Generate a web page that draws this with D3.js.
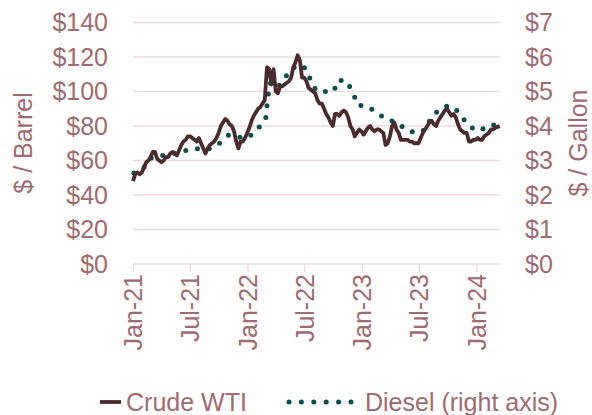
<!DOCTYPE html>
<html>
<head>
<meta charset="utf-8">
<script src="https://cdn.jsdelivr.net/npm/d3@7"></script>
<style>
  body { margin: 0; background: #fff; }
  text { font-family: "Liberation Sans", Arial, sans-serif; }
</style>
</head>
<body>
<div id="chart"></div>
<script>
// weekly crude WTI ($/barrel), one value per Friday starting 2021-01-01
var wtiStart = "2021-01-01";
var wti = [
  // 2021
  48, 52, 53, 52, 53,   56, 59, 60, 62,   65, 65, 61, 60,   59, 60, 62, 62, 64,
  65, 64, 63, 66,   69, 71, 72, 74,   74, 73, 72, 71, 73,   70, 67, 64, 67,
  69, 70, 71, 73,   76, 80, 82, 84, 83,   81, 80, 77, 71,   67, 71, 71, 73, 76,
  // 2022
  79, 83, 86, 88,   90, 91, 93, 95,   114, 113, 104, 113,   100, 99, 103, 103, 104,
  105, 106, 108, 114,   117, 121, 118, 108,   108, 106, 102, 101, 100,   99, 95, 93, 93,
  90, 87, 85, 82, 80,   87, 87, 86, 88,   89, 88, 85, 80,   78, 74, 76, 78, 77,
  // 2023
  75, 77, 79, 80,   78, 77, 78, 78,   77, 76, 69, 70, 74,   80, 82, 78, 76,
  72, 72, 72, 72,   71, 71, 70, 70, 70,   73, 76, 78, 80,   82, 83, 81, 80,
  83, 85, 87, 89, 90,   88, 86, 87, 85,   81, 78, 77, 76,   76, 71, 71, 72, 72,
  // 2024
  73, 72, 72, 74,   75, 76, 78, 78,   79, 79.5, 80
];

// diesel ($/gallon), right axis
var dieselDates = [
  "2021-01-04", "2021-02-01", "2021-03-01", "2021-04-01", "2021-05-03", "2021-06-01",
  "2021-07-01", "2021-08-02", "2021-09-01", "2021-10-01", "2021-11-01", "2021-12-01",
  "2022-01-03", "2022-02-01", "2022-02-28", "2022-03-07", "2022-03-14", "2022-04-04",
  "2022-04-25", "2022-05-16", "2022-06-13", "2022-07-04", "2022-07-18", "2022-08-08",
  "2022-09-05", "2022-09-26", "2022-10-05", "2022-10-17", "2022-11-14", "2022-12-05",
  "2022-12-19", "2023-01-16", "2023-02-13", "2023-03-20", "2023-04-24", "2023-05-22",
  "2023-06-26", "2023-07-24", "2023-08-09", "2023-09-05", "2023-10-02", "2023-10-25",
  "2023-11-17", "2023-12-14", "2024-01-12", "2024-02-10", "2024-03-11"
];
var diesel = [
  2.64, 2.75, 3.08, 3.14, 3.19, 3.26,
  3.31, 3.35, 3.34, 3.48, 3.73, 3.68,
  3.66, 3.90, 4.20, 4.85, 5.25, 5.10,
  5.30, 5.62, 5.78, 5.68, 5.40, 5.02,
  5.00, 4.97, 5.05, 5.33, 5.30, 4.92,
  4.60, 4.58, 4.42, 4.19, 4.10, 3.88,
  3.79, 3.90, 4.25, 4.48, 4.59, 4.51,
  4.24, 3.96, 3.86, 4.03, 4.03
];

var xTicks = ["2021-01-01", "2021-07-01", "2022-01-01", "2022-07-01", "2023-01-01", "2023-07-01", "2024-01-01"];
var leftTicks = [0, 20, 40, 60, 80, 100, 120, 140];
var rightTicks = [0, 1, 2, 3, 4, 5, 6, 7];

var width = 592, height = 415;
var textColor = "#9d6b73", gridColor = "#ecdde1";
var wtiColor = "#4a2b2f", dieselColor = "#0c4e48";

var parse = d3.timeParse("%Y-%m-%d");
var start = parse(wtiStart);
var wtiData = wti.map(function(v, i) {
  return { date: d3.timeDay.offset(start, 7 * i), value: v };
});
var dieselData = diesel.map(function(v, i) {
  return { date: parse(dieselDates[i]), value: v };
});

var svg = d3.select("#chart").append("svg")
  .attr("width", width)
  .attr("height", height);

var x = d3.scaleTime()
  .domain([start, wtiData[wtiData.length - 1].date])
  .range([133, 499.7]);
var yL = d3.scaleLinear().domain([0, 140]).range([264, 22.5]);
var yR = d3.scaleLinear().domain([0, 7]).range([264, 22.5]);

// gridlines
svg.append("g").selectAll("line")
  .data(leftTicks.filter(function(d) { return d > 0; }))
  .enter().append("line")
  .attr("x1", x.range()[0]).attr("x2", x.range()[1])
  .attr("y1", function(d) { return yL(d); })
  .attr("y2", function(d) { return yL(d); })
  .attr("stroke", gridColor)
  .attr("stroke-width", 1.5);

// x axis
var xAxis = svg.append("g")
  .attr("transform", "translate(0," + yL(0) + ")")
  .call(d3.axisBottom(x)
    .tickValues(xTicks.map(parse))
    .tickSize(8)
    .tickFormat(d3.timeFormat("%b-%y")));
xAxis.select(".domain").attr("stroke", gridColor).attr("stroke-width", 1.5)
  .attr("d", "M" + x.range()[0] + ",0H" + x.range()[1]);
xAxis.selectAll(".tick line").attr("stroke", gridColor).attr("stroke-width", 1.5);
xAxis.selectAll(".tick text")
  .attr("fill", textColor)
  .attr("font-size", 25)
  .attr("text-anchor", "end")
  .attr("transform", "translate(0,-4) rotate(-90)")
  .attr("x", -14)
  .attr("y", 0)
  .attr("dy", "0.35em");

// left axis labels
var yAxisL = svg.append("g")
  .attr("transform", "translate(108,0)")
  .call(d3.axisLeft(yL).tickValues(leftTicks).tickSize(0).tickPadding(0)
    .tickFormat(function(d) { return "$" + d; }));
yAxisL.select(".domain").remove();
yAxisL.selectAll("text").attr("fill", textColor).attr("font-size", 25);

// right axis labels
var yAxisR = svg.append("g")
  .attr("transform", "translate(525,0)")
  .call(d3.axisRight(yR).tickValues(rightTicks).tickSize(0).tickPadding(0)
    .tickFormat(function(d) { return "$" + d; }));
yAxisR.select(".domain").remove();
yAxisR.selectAll("text").attr("fill", textColor).attr("font-size", 25);

// axis titles
svg.append("text")
  .attr("transform", "translate(23,143) rotate(-90)")
  .attr("text-anchor", "middle")
  .attr("dy", "0.35em")
  .attr("fill", textColor)
  .attr("font-size", 25)
  .text("$ / Barrel");
svg.append("text")
  .attr("transform", "translate(578,143) rotate(-90)")
  .attr("text-anchor", "middle")
  .attr("dy", "0.35em")
  .attr("fill", textColor)
  .attr("font-size", 25)
  .text("$ / Gallon");

// lines
var lineL = d3.line()
  .x(function(d) { return x(d.date); })
  .y(function(d) { return yL(d.value); });
var lineR = d3.line()
  .x(function(d) { return x(d.date); })
  .y(function(d) { return yR(d.value); });

svg.append("path")
  .datum(dieselData)
  .attr("d", lineR)
  .attr("fill", "none")
  .attr("stroke", dieselColor)
  .attr("stroke-width", 5)
  .attr("stroke-linecap", "round")
  .attr("stroke-dasharray", "0,11.8");

svg.append("path")
  .datum(wtiData)
  .attr("d", lineL)
  .attr("fill", "none")
  .attr("stroke", wtiColor)
  .attr("stroke-width", 3.8)
  .attr("stroke-linejoin", "round");

// legend
var legY = 402;
svg.append("line")
  .attr("x1", 100).attr("x2", 121)
  .attr("y1", legY).attr("y2", legY)
  .attr("stroke", wtiColor).attr("stroke-width", 3.8);
svg.append("text")
  .attr("x", 126).attr("y", legY).attr("dy", "0.35em")
  .attr("fill", textColor).attr("font-size", 25)
  .text("Crude WTI");
svg.append("line")
  .attr("x1", 289).attr("x2", 352)
  .attr("y1", legY).attr("y2", legY)
  .attr("stroke", dieselColor).attr("stroke-width", 5)
  .attr("stroke-linecap", "round")
  .attr("stroke-dasharray", "0,12.4");
svg.append("text")
  .attr("x", 365).attr("y", legY).attr("dy", "0.35em")
  .attr("fill", textColor).attr("font-size", 25)
  .text("Diesel (right axis)");
</script>
</body>
</html>
